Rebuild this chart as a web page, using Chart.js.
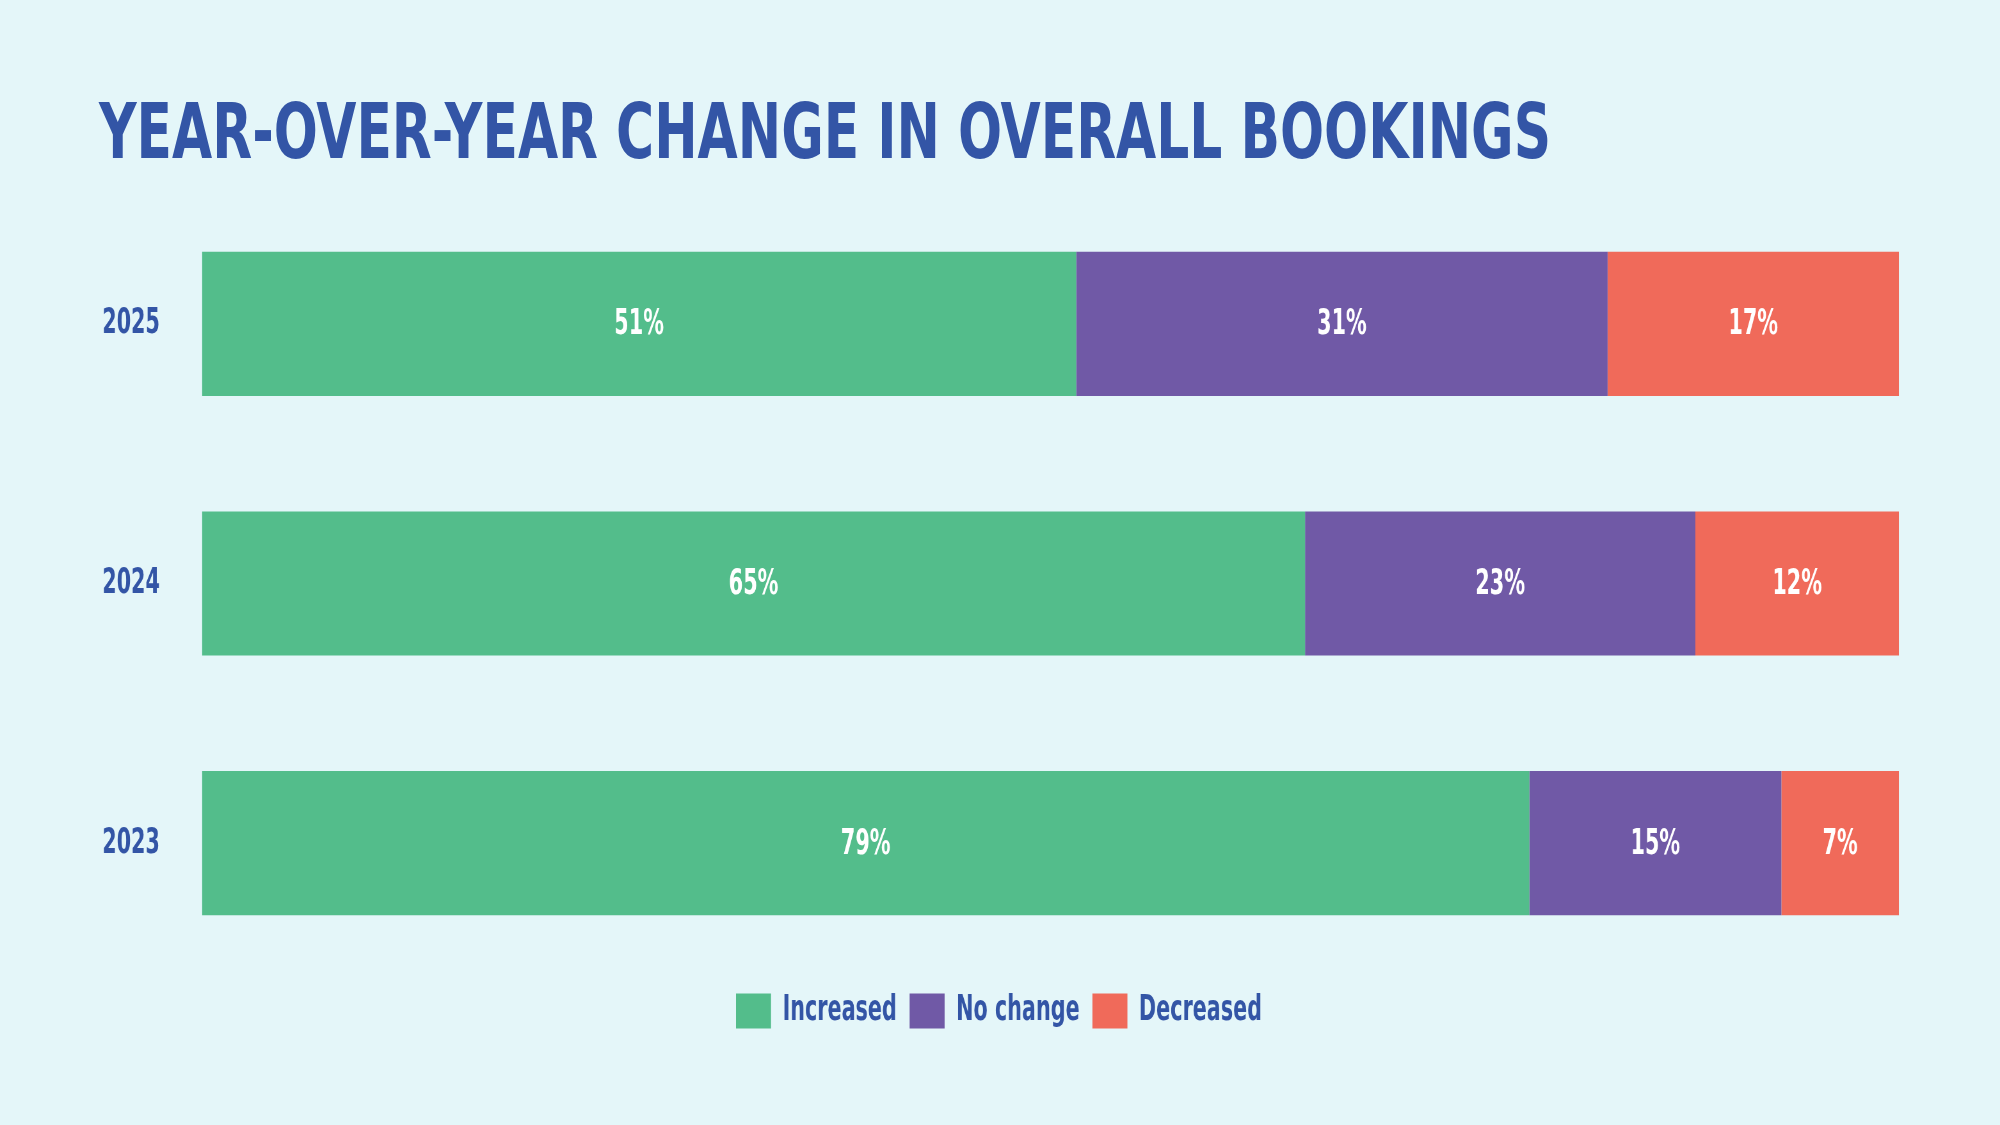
<!DOCTYPE html>
<html>
<head>
<meta charset="utf-8">
<script src="https://cdn.jsdelivr.net/npm/chart.js@4.4.1/dist/chart.umd.min.js"></script>
<style>
    html, body { margin: 0; padding: 0; background: #e4f6f9; }
    #wrap { position: relative; width: 2000px; height: 1125px; overflow: hidden; }
    /* o canvas é desenhado mais largo e comprimido na horizontal (fonte condensada) */
    #chartBookings { display: block; width: 2000px !important; height: 1125px !important; }
    #titulo {
        position: absolute; left: 99px; top: 93px; margin: 0;
        font: bold 77px/77px 'Liberation Sans Narrow', 'DejaVu Sans Condensed', 'Roboto Condensed', sans-serif;
        color: #3355a6; white-space: nowrap;
        transform: scaleX(0.749); transform-origin: left top;
    }
</style>
</head>
<body>
<div id="wrap">
    <canvas id="chartBookings" width="3125" height="1125"></canvas>
    <h1 id="titulo">YEAR-OVER-YEAR CHANGE IN OVERALL BOOKINGS</h1>
</div>
<script>
// Dados
var years     = ['2025', '2024', '2023'];
var increased = [51, 65, 79];
var noChange  = [31, 23, 15];
var decreased = [17, 12, 7];
var seriesNames = ['Increased', 'No change', 'Decreased'];

var FONT = "'Liberation Sans Narrow', 'DejaVu Sans Condensed', 'Roboto Condensed', sans-serif";
var BLUE = '#3355a6';
var SX = 0.64;   // compressão horizontal do canvas (3125 -> 2000)

// cada barra soma 100% (os valores lidos somam 99 ou 101)
function shares(arr){
    return arr.map(function(v, i){
        return v / (increased[i] + noChange[i] + decreased[i]) * 100;
    });
}

// rótulos dentro das barras
var barLabels = {
    id: 'barLabels',
    afterDatasetsDraw: function(chart){
        var ctx = chart.ctx;
        ctx.save();
        ctx.font = 'bold 36px ' + FONT;
        ctx.fillStyle = '#ffffff';
        ctx.textAlign = 'center';
        ctx.textBaseline = 'middle';
        chart.data.datasets.forEach(function(ds, di){
            chart.getDatasetMeta(di).data.forEach(function(bar, i){
                ctx.fillText(ds.raw[i] + '%', (bar.x + bar.base) / 2, bar.y + 1);
            });
        });
        ctx.restore();
    }
};

var ctx = document.getElementById('chartBookings').getContext('2d');
var chart = new Chart(ctx, {
    type: 'bar',
    data: {
        labels: years,
        datasets: [
            { label: seriesNames[0], raw: increased, data: shares(increased), backgroundColor: '#53bd8b' },
            { label: seriesNames[1], raw: noChange,  data: shares(noChange),  backgroundColor: '#7059a6' },
            { label: seriesNames[2], raw: decreased, data: shares(decreased), backgroundColor: '#f06a5a' }
        ]
    },
    options: {
        indexAxis: 'y',
        responsive: false,
        animation: false,
        devicePixelRatio: 1,
        layout: { padding: { left: 99 / SX, right: 101 / SX, top: 194, bottom: 86 } },
        datasets: { bar: { categoryPercentage: 1, barPercentage: 0.555, borderWidth: 0 } },
        scales: {
            x: { stacked: true, min: 0, max: 100, display: false },
            y: {
                stacked: true,
                grid: { display: false },
                border: { display: false },
                ticks: { color: BLUE, padding: 37 / SX, font: { family: FONT, size: 36, weight: 'bold' } },
                afterFit: function(scale){ scale.width = 103 / SX; }
            }
        },
        plugins: {
            title: { display: false },
            legend: {
                position: 'bottom',
                labels: {
                    color: BLUE,
                    boxWidth: 35 / SX,
                    boxHeight: 35,
                    padding: 20,
                    font: { family: FONT, size: 36, weight: 'bold' }
                }
            },
            tooltip: { enabled: false }
        }
    },
    plugins: [barLabels]
});
</script>
</body>
</html>
